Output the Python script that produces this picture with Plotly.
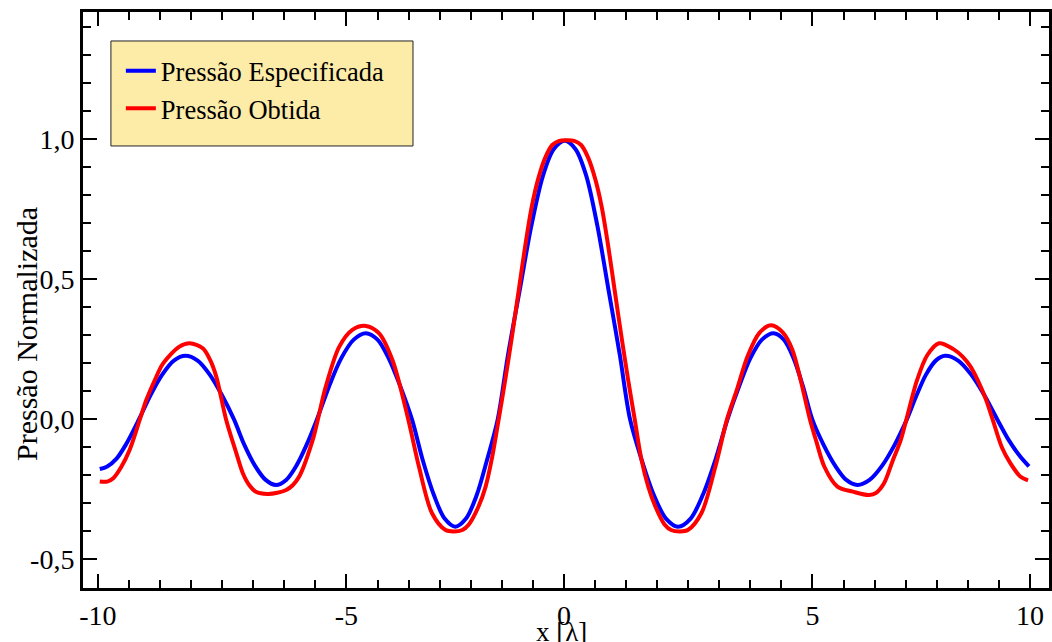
import plotly.graph_objects as go

# ---- data ----
x_especificada = [-9.96, -9.80, -9.60, -9.40, -9.12, -8.87, -8.62, -8.37, -8.12, -7.86,
                  -7.60, -7.34, -7.08, -6.86, -6.63, -6.40, -6.18, -5.96, -5.74, -5.52,
                  -5.30, -5.04, -4.78, -4.51, -4.25, -4.00, -3.76, -3.51, -3.26, -3.03,
                  -2.79, -2.56, -2.33, -2.10, -1.87, -1.65, -1.42, -1.20, -0.95, -0.70,
                  -0.45, -0.22, 0.02, 0.25, 0.48, 0.72, 0.96, 1.20, 1.42, 1.67,
                  1.93, 2.19, 2.45, 2.72, 2.98, 3.25, 3.51, 3.76, 4.00, 4.25,
                  4.50, 4.72, 4.93, 5.13, 5.33, 5.57, 5.82, 6.06, 6.30, 6.56,
                  6.83, 7.10, 7.36, 7.57, 7.77, 7.98, 8.18, 8.46, 8.74, 9.02,
                  9.30, 9.55, 9.78, 9.98]
y_especificada = [-0.177, -0.168, -0.140, -0.090, 0.000, 0.087, 0.160, 0.210, 0.227, 0.210,
                  0.160, 0.087, 0.000, -0.090, -0.165, -0.216, -0.234, -0.216, -0.165, -0.090,
                  0.000, 0.118, 0.218, 0.285, 0.308, 0.285, 0.218, 0.118, 0.000, -0.145,
                  -0.270, -0.354, -0.383, -0.354, -0.270, -0.145, 0.000, 0.230, 0.460, 0.690,
                  0.870, 0.965, 0.995, 0.965, 0.870, 0.690, 0.460, 0.230, 0.000, -0.145,
                  -0.270, -0.354, -0.383, -0.354, -0.270, -0.145, 0.000, 0.118, 0.218, 0.285,
                  0.308, 0.285, 0.218, 0.118, 0.000, -0.090, -0.165, -0.216, -0.234, -0.216,
                  -0.165, -0.090, 0.000, 0.087, 0.160, 0.210, 0.227, 0.210, 0.160, 0.087,
                  0.000, -0.075, -0.130, -0.168]

x_obtida = [-9.96, -9.80, -9.67, -9.50, -9.32, -9.10, -8.96, -8.78, -8.60, -8.25,
            -8.03, -7.75, -7.60, -7.46, -7.25, -7.03, -6.89, -6.75, -6.61, -6.36,
            -6.15, -5.96, -5.82, -5.68, -5.39, -5.28, -5.11, -4.82, -4.54, -4.25,
            -3.97, -3.68, -3.34, -3.11, -2.83, -2.54, -2.36, -2.18, -2.04, -1.83,
            -1.68, -1.54, -1.40, -1.26, -1.12, -0.97, -0.83, -0.69, -0.55, -0.40,
            -0.25, -0.10, 0.06, 0.22, 0.37, 0.52, 0.67, 0.81, 0.95, 1.09,
            1.24, 1.38, 1.52, 1.66, 1.81, 1.96, 2.16, 2.30, 2.49, 2.66,
            2.95, 3.25, 3.50, 3.72, 3.94, 4.20, 4.45, 4.70, 4.90, 5.08,
            5.28, 5.42, 5.59, 5.87, 6.20, 6.55, 6.70, 6.87, 7.05, 7.23,
            7.35, 7.58, 7.80, 8.05, 8.35, 8.55, 8.72, 8.88, 9.06, 9.20,
            9.40, 9.58, 9.80, 9.96]
y_obtida = [-0.222, -0.222, -0.210, -0.170, -0.109, 0.000, 0.070, 0.140, 0.200, 0.260,
            0.272, 0.254, 0.215, 0.153, 0.000, -0.120, -0.192, -0.235, -0.258, -0.266,
            -0.262, -0.252, -0.235, -0.204, -0.073, 0.000, 0.117, 0.260, 0.320, 0.334,
            0.308, 0.212, 0.000, -0.169, -0.335, -0.395, -0.400, -0.395, -0.375, -0.310,
            -0.240, -0.135, 0.000, 0.140, 0.290, 0.460, 0.620, 0.760, 0.860, 0.935,
            0.980, 0.995, 0.997, 0.995, 0.980, 0.935, 0.860, 0.760, 0.620, 0.460,
            0.290, 0.140, 0.000, -0.140, -0.240, -0.310, -0.375, -0.395, -0.400, -0.395,
            -0.335, -0.169, 0.000, 0.110, 0.225, 0.310, 0.336, 0.310, 0.250, 0.141,
            0.000, -0.080, -0.169, -0.240, -0.258, -0.270, -0.262, -0.228, -0.150, -0.073,
            0.000, 0.141, 0.230, 0.272, 0.252, 0.225, 0.190, 0.140, 0.070, 0.000,
            -0.100, -0.156, -0.205, -0.218]

x_tick_vals = [-10, -14 / 3, 0, 16 / 3, 10]
x_tick_text = ["-10", "-5", "0", "5", "10"]
y_tick_vals = [-0.5, 0.0, 0.5, 1.0]
y_tick_text = ["-0,5", "0,0", "0,5", "1,0"]

FONT = "Liberation Serif, Times New Roman, serif"

fig = go.Figure()
fig.add_trace(go.Scatter(x=x_especificada, y=y_especificada, mode="lines",
                         name="Pressão Especificada",
                         line=dict(color="#0000FF", width=4, shape="spline", smoothing=0.9)))
fig.add_trace(go.Scatter(x=x_obtida, y=y_obtida, mode="lines",
                         name="Pressão Obtida",
                         line=dict(color="#FF0000", width=4, shape="spline", smoothing=0.9)))

axis_common = dict(showline=True, linecolor="black", linewidth=3, mirror="allticks",
                   ticks="inside", ticklen=14, tickwidth=2, tickcolor="black",
                   showgrid=False, zeroline=False,
                   tickfont=dict(family=FONT, size=28, color="black"))

fig.update_xaxes(range=[-10.32, 10.41], tickmode="array", tickvals=x_tick_vals,
                 ticktext=x_tick_text,
                 minor=dict(ticks="inside", ticklen=8, tickwidth=2, tickcolor="black",
                            tick0=0, dtick=2 / 3, showgrid=False),
                 **axis_common)
fig.update_yaxes(range=[-0.602, 1.455], tickmode="array", tickvals=y_tick_vals,
                 ticktext=y_tick_text,
                 minor=dict(ticks="inside", ticklen=8, tickwidth=2, tickcolor="black",
                            tick0=0, dtick=0.1, showgrid=False),
                 **axis_common)

# legend frame
fig.add_shape(type="rect", xref="paper", yref="paper",
              x0=0.0289, x1=0.3416, y0=0.7674, y1=0.9497,
              fillcolor="#FDEBA8", line=dict(color="#222222", width=1), layer="below")

fig.add_annotation(text="Pressão Normalizada", textangle=-90, xref="paper", yref="paper",
                   x=0, y=0.5, xanchor="center", yanchor="middle", xshift=-57, yshift=-34,
                   showarrow=False, font=dict(family=FONT, size=30, color="black"))
fig.add_annotation(text="x [λ]", xref="paper", yref="paper", x=0.495, y=0,
                   xanchor="center", yanchor="top", yshift=-27, showarrow=False,
                   font=dict(family=FONT, size=27, color="black"))

fig.update_layout(
    width=1052, height=642,
    margin=dict(l=83, r=0, t=12, b=54),
    paper_bgcolor="white", plot_bgcolor="white",
    showlegend=True,
    legend=dict(x=0.0392, y=0.939, xanchor="left", yanchor="top",
                bgcolor="rgba(0,0,0,0)", borderwidth=0,
                font=dict(family=FONT, size=26.5, color="black"),
                itemwidth=30),
)

fig.write_html("out.html")
